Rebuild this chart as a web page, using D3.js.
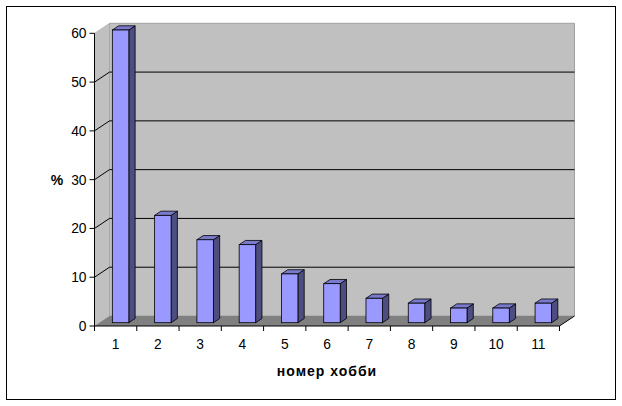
<!DOCTYPE html>
<html><head><meta charset="utf-8">
<script src="https://cdn.jsdelivr.net/npm/d3@7"></script>
<style>body{margin:0;background:#fff}svg{display:block}text{font-family:Arial,"Liberation Sans",sans-serif}</style>
</head><body>
<script>
const categories = ["1","2","3","4","5","6","7","8","9","10","11"];
const values = [60, 22, 17, 16, 10, 8, 5, 4, 3, 3, 4];
const yTicks = [0, 10, 20, 30, 40, 50, 60];
const yTitle = "%";
const xTitle = "номер хобби";

const W = 622, H = 406;
const svg = d3.select("body").append("svg").attr("width", W).attr("height", H);
svg.append("rect").attr("x", 6.5).attr("y", 6.5).attr("width", 609).attr("height", 393)
  .attr("fill", "#fff").attr("stroke", "#000").attr("stroke-width", 1);

const x = d3.scaleBand().domain(categories).range([94.5, 559.5]);
const y = d3.scaleLinear().domain([0, 60]).range([326, 33.3]);
const DX = 15, DY = -10;
const x0 = x.range()[0], x1 = x.range()[1];
const pts = a => a.map(p => p.join(",")).join(" ");

// walls
svg.append("polygon").attr("points", pts([[x0 + DX, y(60) + DY], [x1 + DX, y(60) + DY], [x1 + DX, y(0) + DY], [x0 + DX, y(0) + DY]]))
  .attr("fill", "#c0c0c0").attr("stroke", "#a0a0a0").attr("stroke-width", 1);
svg.append("polygon").attr("points", pts([[x0, y(60)], [x0 + DX, y(60) + DY], [x0 + DX, y(0) + DY], [x0, y(0)]]))
  .attr("fill", "#c0c0c0").attr("stroke", "#a0a0a0").attr("stroke-width", 0.5);
svg.append("polygon").attr("points", pts([[x0, y(0)], [x1, y(0)], [x1 + DX, y(0) + DY], [x0 + DX, y(0) + DY]]))
  .attr("fill", "#808080");

// gridlines
const grid = yTicks.filter(v => v > 0 && v < 60);
svg.selectAll(".g").data(grid).enter().append("polyline")
  .attr("points", v => pts([[x0, y(v)], [x0 + DX, y(v) + DY], [x1 + DX, y(v) + DY]]))
  .attr("fill", "none").attr("stroke", "#000").attr("stroke-width", 1);

// bars
const bw = x.bandwidth() * 0.39;
const f0 = 0.33, f1 = 0.75;
const bars = svg.selectAll(".bar").data(values).enter().append("g");
bars.each(function (v, i) {
  const g = d3.select(this);
  const bx = x(categories[i]) + (x.bandwidth() - bw) / 2 + DX * f0;
  const by0 = y(0) + DY * f0, by1 = y(v) + DY * f0;
  const ddx = DX * (f1 - f0), ddy = DY * (f1 - f0);
  g.append("polygon").attr("points", pts([[bx + bw, by1], [bx + bw + ddx, by1 + ddy], [bx + bw + ddx, by0 + ddy], [bx + bw, by0]]))
    .attr("fill", "#4d4d80").attr("stroke", "#000").attr("stroke-width", 0.8).attr("stroke-linejoin", "round");
  g.append("polygon").attr("points", pts([[bx, by1], [bx + ddx, by1 + ddy], [bx + bw + ddx, by1 + ddy], [bx + bw, by1]]))
    .attr("fill", "#7a7acc").attr("stroke", "#000").attr("stroke-width", 0.8).attr("stroke-linejoin", "round");
  g.append("rect").attr("x", bx).attr("y", by1).attr("width", bw).attr("height", by0 - by1)
    .attr("fill", "#9999ff").attr("stroke", "#000").attr("stroke-width", 0.8);
});

// axes
svg.append("line").attr("x1", x0).attr("x2", x0).attr("y1", y(0)).attr("y2", y(60)).attr("stroke", "#000");
svg.append("polyline").attr("points", pts([[x0, y(0)], [x1, y(0)], [x1 + DX, y(0) + DY]])).attr("fill", "none").attr("stroke", "#000");
svg.selectAll(".yt").data(yTicks).enter().append("line")
  .attr("x1", x0 - 5).attr("x2", x0).attr("y1", d => y(d)).attr("y2", d => y(d)).attr("stroke", "#000");
svg.selectAll(".yl").data(yTicks).enter().append("text")
  .attr("x", x0 - 8).attr("y", d => y(d)).attr("dy", "0.36em").attr("text-anchor", "end")
  .attr("font-size", 13.8).text(d => d);
const bounds = categories.map(c => x(c)).concat([x1]);
svg.selectAll(".xt").data(bounds).enter().append("line")
  .attr("x1", d => d).attr("x2", d => d).attr("y1", y(0)).attr("y2", y(0) + 5).attr("stroke", "#000");
svg.selectAll(".xl").data(categories).enter().append("text")
  .attr("x", d => x(d) + x.bandwidth() / 2).attr("y", 348.5).attr("text-anchor", "middle")
  .attr("font-size", 13.8).text(d => d);
svg.append("text").attr("x", 57).attr("y", 185).attr("text-anchor", "middle")
  .attr("font-size", 14).attr("font-weight", "bold").text(yTitle);
svg.append("text").attr("x", 327).attr("y", 376).attr("text-anchor", "middle")
  .attr("font-size", 14).attr("font-weight", "bold").attr("letter-spacing", "1px").text(xTitle);
</script>
</body></html>
